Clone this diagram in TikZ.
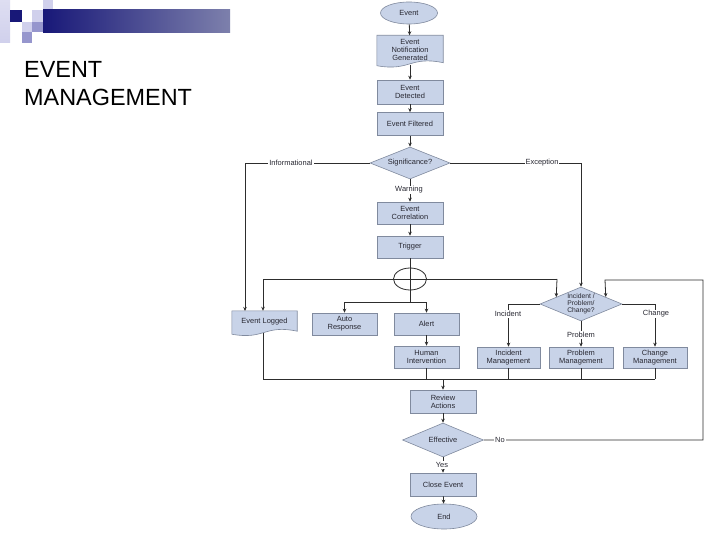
\documentclass[tikz,border=0pt]{standalone}
\usepackage{fontspec}
\setmainfont{Liberation Sans}
\usetikzlibrary{shapes.geometric,arrows.meta,calc}
\pgfdeclarelayer{paper}
\pgfdeclarelayer{bg}
\pgfsetlayers{paper,bg,main}
\definecolor{boxfill}{RGB}{200,211,232}
\definecolor{boxline}{RGB}{128,138,158}
\definecolor{lineclr}{RGB}{45,45,45}
\definecolor{txtclr}{RGB}{40,40,50}
\definecolor{navy}{RGB}{24,24,120}
\definecolor{lav}{RGB}{208,208,236}
\definecolor{midlav}{RGB}{150,150,205}
\tikzset{
  base/.style={font=\fontsize{7.5}{8.3}\selectfont, text=txtclr, align=center, inner sep=0pt},
  procbox/.style={base, rectangle, draw=boxline, fill=boxfill, line width=0.6bp},
  docbox/.style={base, rectangle, draw=none, fill=none},
  docshape/.style={draw=boxline, fill=boxfill, line width=0.6bp},
  decision/.style={base, diamond, draw=boxline, fill=boxfill, line width=0.6bp, aspect=2.5},
  terminal/.style={base, ellipse, draw=boxline, fill=boxfill, line width=0.6bp},
  flow/.style={draw=lineclr, line width=0.8bp},
  arr/.style={flow, -{Stealth[length=4bp,width=3.5bp]}},
  lbl/.style={base, fill=white, inner sep=1bp},
}
\newcommand{\wavebottom}[1]{%
  \begin{pgfonlayer}{bg}
  \path[docshape] (#1.north west) -- (#1.north east) -- ($(#1.south east)+(0,-2)$)
     .. controls ($(#1.south)+(0,-9)$) and ($(#1.south)+(0,7)$) .. ($(#1.south west)+(0,1)$) -- cycle;
  \end{pgfonlayer}}
\begin{document}
\begin{tikzpicture}[x=1bp,y=-1bp]
\useasboundingbox (0,0) rectangle (720,540);
\begin{pgfonlayer}{paper}
\fill[white] (0,0) rectangle (720,540);
\end{pgfonlayer}
% header decoration
\shade[top color=lav!70, bottom color=lav] (0,0) rectangle (10,43);
\fill[navy] (10,10) rectangle (22,22);
\fill[lav] (32,10) rectangle (43,22);
\fill[lav] (43,0) rectangle (53,10);
\fill[lav] (22,22) rectangle (32,32);
\fill[midlav] (32,22) rectangle (43,32);
\fill[midlav] (22,32) rectangle (32,43);
\shade[left color=navy, right color={rgb,255:red,125;green,128;blue,172}] (43,10) rectangle (230,33);
\node[anchor=west, font=\fontsize{23.5}{28}\selectfont, align=left, inner sep=0pt] (title) at (24,84) {EVENT\\MANAGEMENT};

% nodes
\node[terminal, minimum width=57bp, minimum height=22bp] (evt) at (409,13) {Event};
\node[docbox, minimum width=66bp, minimum height=29bp] (eng) at (410,50) {Event\\Notification\\Generated};
\wavebottom{eng}
\node[procbox, minimum width=66bp, minimum height=24bp] (det) at (410,92) {Event\\Detected};
\node[procbox, minimum width=66bp, minimum height=23bp] (filt) at (410,124) {Event Filtered};
\node[decision, minimum width=80bp, minimum height=32bp] (sig) at (410,163) {Significance?};
\node[procbox, minimum width=66bp, minimum height=22bp] (corr) at (410,213) {Event\\Correlation};
\node[procbox, minimum width=66bp, minimum height=22bp] (trig) at (410,247) {Trigger};
\coordinate (split) at (410,302);
\coordinate (jl) at (263,279);
\coordinate (jr) at (557,279);
\node[docbox, minimum width=65bp, minimum height=22bp] (elog) at (264.5,322) {Event Logged};
\wavebottom{elog}
\node[procbox, minimum width=65bp, minimum height=22bp] (auto) at (344.5,324) {Auto\\Response};
\node[procbox, minimum width=65bp, minimum height=22bp] (alert) at (426.5,324) {Alert};
\node[procbox, minimum width=65bp, minimum height=22bp] (human) at (426.5,357) {Human\\Intervention};
\node[decision, minimum width=82bp, minimum height=34bp, font=\fontsize{6.8}{7}\selectfont] (ipc) at (581,304) {Incident /\\Problem/\\Change?};
\node[procbox, minimum width=63bp, minimum height=21bp] (im) at (508.5,357.5) {Incident\\Management};
\node[procbox, minimum width=64bp, minimum height=21bp] (pm) at (581,357.5) {Problem\\Management};
\node[procbox, minimum width=64bp, minimum height=21bp] (cm) at (655,357.5) {Change\\Management};
\node[procbox, minimum width=66bp, minimum height=23bp] (rev) at (443,401.5) {Review\\Actions};
\node[decision, minimum width=81bp, minimum height=34bp] (eff) at (443,440) {Effective};
\node[procbox, minimum width=66bp, minimum height=23bp] (close) at (443,484.5) {Close Event};
\node[terminal, minimum width=66bp, minimum height=25bp] (end) at (444,516.5) {End};

% connectors
\draw[arr] (evt) -- (eng);
\draw[arr] (eng.south) -- (det);
\draw[arr] (det) -- (filt);
\draw[arr] (filt) -- (sig);
\draw[arr] (sig.west) -| (245,311) coordinate (elogin1);
\node[lbl] (linf) at (291,163) {Informational};
\draw[arr] (sig.east) -| (ipc.north);
\node[lbl] (lexc) at (542,163) {Exception};
\draw[arr] (sig.south) -- (corr.north);
\node[lbl] (lwarn) at (409,190) {Warning};
\draw[arr] (corr) -- (trig);
\draw[flow] (trig.south) -- (split);
\draw[flow] (jl) -- (jr);
\draw[arr] (jl) -- (jl |- elog.north);
\draw[arr] (jr) -- ($(ipc.west)!0.4!(ipc.north)$);
\node[ellipse, draw=lineclr, line width=0.8bp, minimum width=33bp, minimum height=22bp, inner sep=0pt] (orj) at (410,279) {};
\draw[arr] (auto.north |- split) -- (auto.north);
\draw[flow] (auto.north |- split) -- (alert.north |- split);
\draw[arr] (alert.north |- split) -- (alert.north);
\draw[arr] (alert) -- (human);
\draw[arr] (ipc.west) -| (im.north);
\node[lbl] (linc) at (508,314) {Incident};
\draw[arr] (ipc.east) -| (cm.north);
\node[lbl] (lchg) at (656,314) {Change};
\draw[arr] (ipc.south) -- (pm.north);
\node[lbl] (lprob) at (581,335) {Problem};
% bottom collector
\coordinate (bl) at (263,379);
\coordinate (br) at (655,379);
\draw[flow] (elog.south -| bl) -- (bl) -- (br);
\draw[flow] (human.south) -- (human.south |- bl);
\draw[flow] (im.south) -- (im.south |- bl);
\draw[flow] (pm.south) -- (pm.south |- bl);
\draw[flow] (cm.south) -- (br);
\draw[arr] (rev.north |- bl) -- (rev.north);
\draw[arr] (rev) -- (eff);
\draw[arr] (eff.east) -- (703,440) -- (703,280) -- (605,280) -- ($(ipc.east)!0.4!(ipc.north)$);
\node[lbl] (lno) at (500,440) {No};
\draw[arr] (eff.south) -- (close.north);
\node[lbl] (lyes) at (442,465) {Yes};
\draw[arr] (close) -- (end);
\end{tikzpicture}
\end{document}
